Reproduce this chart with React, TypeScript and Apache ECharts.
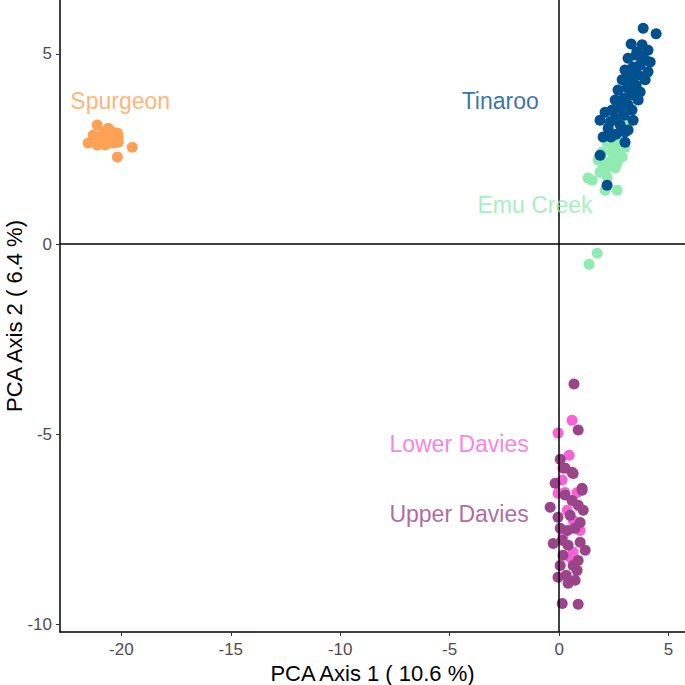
import React, { useEffect, useRef } from "react";
import * as echarts from "echarts";

const groupNames = ["Emu Creek", "Lower Davies", "Spurgeon", "Tinaroo", "Upper Davies"];
const groupColors = ["#8FEBB0", "#F763D7", "#FFA155", "#03508F", "#9B4489"];

const emuCreek: number[][] = [
  [2.33, 3.39], [2.69, 3.34], [2.24, 3.0], [2.88, 3.05], [2.19, 2.68], [2.69, 2.74],
  [3.01, 2.55], [1.96, 2.42], [2.42, 2.42], [2.88, 2.29], [1.78, 2.21], [2.24, 2.16],
  [2.65, 2.13], [2.1, 1.95], [1.87, 1.89], [1.51, 1.68], [2.19, 1.76], [2.56, 2.0],
  [2.1, 1.42], [2.65, 1.42], [1.32, 1.74], [3.15, 3.21], [2.79, 2.87], [2.42, 2.6],
  [2.5, 2.3], [2.0, 2.0], [2.75, 2.5], [1.74, -0.24], [1.37, -0.53],
];

const lowerDavies: number[][] = [
  [0.59, -4.63], [-0.05, -4.97], [0.46, -5.55], [-0.05, -6.55], [0.27, -6.53],
  [0.82, -6.53], [0.37, -7.0], [0.64, -7.26], [0.18, -7.66], [0.5, -8.24],
  [0.64, -7.47], [0.96, -7.53], [0.64, -8.1], [0.55, -8.22], [0.14, -6.2],
];

const spurgeon: number[][] = [
  [-21.1, 3.13], [-20.59, 3.05], [-20.18, 2.92], [-21.51, 2.66], [-20.97, 2.82],
  [-20.5, 2.79], [-20.14, 2.68], [-21.1, 2.61], [-20.73, 2.61], [-20.37, 2.66],
  [-19.5, 2.55], [-20.18, 2.29], [-20.82, 2.92], [-20.41, 2.95], [-21.28, 2.87],
  [-20.14, 2.82],
];

const tinaroo: number[][] = [
  [3.84, 5.68], [3.29, 5.26], [4.43, 5.53], [3.79, 5.24], [4.06, 5.1], [3.52, 4.97],
  [3.15, 4.89], [3.93, 4.84], [3.7, 4.71], [4.16, 4.79], [3.38, 4.66], [3.01, 4.58],
  [4.06, 4.53], [3.61, 4.45], [3.24, 4.37], [2.88, 4.32], [3.93, 4.32], [3.52, 4.18],
  [3.11, 4.11], [3.7, 4.0], [2.69, 4.05], [3.33, 3.92], [2.97, 3.84], [2.56, 3.79],
  [3.61, 3.79], [3.15, 3.66], [2.79, 3.58], [2.42, 3.53], [3.33, 3.53], [2.1, 3.47],
  [2.97, 3.39], [2.56, 3.32], [3.38, 3.26], [1.87, 3.26], [2.33, 3.21], [2.79, 3.13],
  [3.15, 3.0], [2.24, 3.05], [2.6, 2.89], [2.37, 2.82], [2.01, 2.82], [3.01, 2.95],
  [3.01, 2.68], [1.87, 2.34], [2.19, 1.55], [3.45, 4.5], [3.8, 4.95], [3.25, 4.1],
  [2.9, 3.7], [3.55, 5.05],
];

const upperDavies: number[][] = [
  [0.68, -3.68], [0.87, -4.89], [0.05, -5.66], [0.27, -5.89], [0.59, -6.0],
  [-0.18, -6.29], [1.05, -6.42], [0.18, -5.89], [0.64, -6.03], [1.05, -6.47],
  [-0.41, -6.92], [0.59, -6.74], [0.87, -6.87], [-0.05, -7.18], [0.96, -7.32],
  [0.05, -7.47], [0.73, -7.47], [-0.27, -7.87], [0.96, -7.84], [0.41, -7.92],
  [0.18, -8.18], [0.87, -8.32], [0.82, -8.58], [-0.05, -8.76], [0.41, -8.92],
  [0.14, -9.45], [0.87, -9.47], [0.27, -6.6], [0.5, -7.13], [0.14, -7.79],
  [0.64, -8.45], [0.32, -8.71], [0.73, -8.84], [0.05, -8.45], [1.19, -8.05],
  [1.1, -7.0], [0.37, -7.53],
];

const groupData = [emuCreek, lowerDavies, spurgeon, tinaroo, upperDavies];

// label positions (data coordinates)
const labelNames = ["Spurgeon", "Tinaroo", "Emu Creek", "Lower Davies", "Upper Davies"];
const labelPos: number[][] = [[-20.05, 3.76], [-2.69, 3.76], [-1.1, 1.03], [-4.57, -5.26], [-4.57, -7.1]];
const labelColors = ["#FFA155", "#03508F", "#8FEBB0", "#F763D7", "#9B4489"];

const xTicks = [-20, -15, -10, -5, 0, 5];
const yTicks = [-10, -5, 0, 5];
const xRange = [-22.8, 5.75];
const yRange = [-10.2, 6.42];

export default function App() {
  const ref = useRef<HTMLDivElement>(null);
  useEffect(() => {
    if (!ref.current) return;
    const chart = echarts.init(ref.current, null, { renderer: "svg" });
    const font = "'Liberation Sans', Arial, sans-serif";
    const scatterSeries: any[] = groupNames.map((n, i) => ({
      type: "scatter",
      name: n,
      data: groupData[i],
      symbol: "circle",
      symbolSize: 11,
      itemStyle: { color: groupColors[i], opacity: 1 },
      z: 2,
    }));
    const labelSeries = {
      type: "scatter",
      name: "labels",
      symbolSize: 0,
      z: 5,
      data: labelNames.map((n, i) => ({
        name: n,
        value: labelPos[i],
        label: {
          show: true,
          position: "inside",
          formatter: n,
          color: labelColors[i],
          fontSize: 23,
          fontFamily: font,
        },
      })),
    };
    const refLines = {
      type: "scatter",
      name: "zero",
      data: [],
      z: 10,
      markLine: {
        silent: true,
        symbol: "none",
        animation: false,
        label: { show: false },
        lineStyle: { color: "#000", width: 1.5, type: "solid" },
        data: [{ xAxis: 0 }, { yAxis: 0 }],
      },
    };
    chart.setOption({
      animation: false,
      backgroundColor: "#fff",
      grid: { left: 60, right: 0, top: 0, bottom: 53, containLabel: false, outerBoundsMode: "none" },
      xAxis: {
        type: "value",
        min: xRange[0],
        max: xRange[1],
        name: "PCA Axis 1 ( 10.6 %)",
        nameLocation: "middle",
        nameGap: 30,
        nameMoveOverlap: false,
        nameTextStyle: { fontSize: 22, color: "#000", fontFamily: font },
        axisLine: { show: true, onZero: false, lineStyle: { color: "#000", width: 1.5 } },
        axisTick: { show: true, length: 4, customValues: xTicks, lineStyle: { color: "#333", width: 1 } },
        axisLabel: { customValues: xTicks, fontSize: 17, color: "#4D4D4D", margin: 9, fontFamily: font },
        splitLine: { show: false },
      },
      yAxis: {
        type: "value",
        min: yRange[0],
        max: yRange[1],
        name: "PCA Axis 2 ( 6.4 %)",
        nameLocation: "middle",
        nameGap: 35,
        nameMoveOverlap: false,
        nameTextStyle: { fontSize: 22, color: "#000", fontFamily: font },
        axisLine: { show: true, onZero: false, lineStyle: { color: "#000", width: 1.5 } },
        axisTick: { show: true, length: 4, customValues: yTicks, lineStyle: { color: "#333", width: 1 } },
        axisLabel: { customValues: yTicks, fontSize: 17, color: "#4D4D4D", margin: 8, fontFamily: font },
        splitLine: { show: false },
      },
      series: [...scatterSeries, labelSeries, refLines],
    });
    return () => chart.dispose();
  }, []);
  return <div ref={ref} style={{ position: "absolute", left: 0, top: 0, width: 685, height: 685 }} />;
}
